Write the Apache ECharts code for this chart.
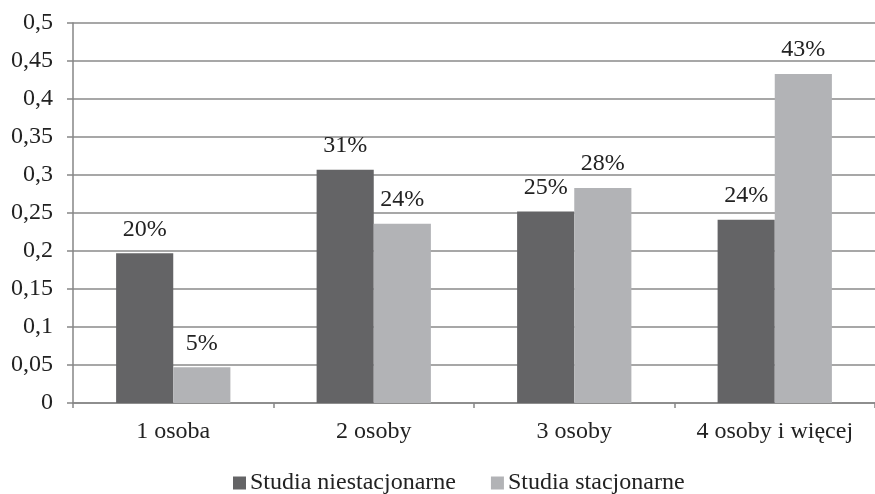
<!DOCTYPE html>
<html>
<head>
<meta charset="utf-8">
<script src="https://cdn.jsdelivr.net/npm/echarts@6/dist/echarts.min.js"></script>
<style>
  html, body { margin: 0; padding: 0; background: #fff; }
  #chart { width: 875px; height: 494px; }
</style>
</head>
<body>
<div id="chart"></div>
<script>
// Household size categories
const categories = ['1 osoba', '2 osoby', '3 osoby', '4 osoby i więcej'];
// Shares per study mode
const niestacjonarne = [0.197, 0.307, 0.252, 0.241];
const stacjonarne = [0.047, 0.236, 0.283, 0.433];
const seriesNames = ['Studia niestacjonarne', 'Studia stacjonarne'];

const FONT = '"Liberation Serif", "DejaVu Serif", serif';
const FS = 24;
const pct = p => Math.round(p.value * 100) + '%';

const chart = echarts.init(document.getElementById('chart'), null, { renderer: 'canvas' });
chart.setOption({
  animation: false,
  backgroundColor: '#ffffff',
  textStyle: { fontFamily: FONT },
  grid: { left: 73, top: 23, width: 813, height: 380 },
  legend: {
    top: 471,
    left: 233,
    padding: 0,
    itemWidth: 13,
    itemHeight: 13,
    itemGap: 35,
    icon: 'rect',
    textStyle: { fontFamily: FONT, fontSize: FS, color: '#222', padding: [2, 0, 0, -1] },
    data: seriesNames
  },
  xAxis: {
    type: 'category',
    data: categories,
    axisLine: { lineStyle: { color: '#868686', width: 1.5 } },
    axisTick: { show: true, length: 5, lineStyle: { color: '#868686', width: 1.5 } },
    axisLabel: { fontFamily: FONT, fontSize: FS, color: '#222', margin: 17, interval: 0 }
  },
  yAxis: {
    type: 'value',
    min: 0,
    max: 0.5,
    interval: 0.05,
    axisLine: { show: true, lineStyle: { color: '#868686', width: 1.5 } },
    axisTick: { show: true, length: 6, lineStyle: { color: '#868686', width: 1.5 } },
    splitLine: { lineStyle: { color: '#8a8a8a', width: 1.5 } },
    axisLabel: {
      fontFamily: FONT, fontSize: FS, color: '#222', margin: 20,
      formatter: v => String(Math.round(v * 100) / 100).replace('.', ',')
    }
  },
  series: [
    {
      name: seriesNames[0],
      type: 'bar',
      data: niestacjonarne,
      barGap: '0%',
      barCategoryGap: '43%',
      itemStyle: { color: '#646466' },
      label: { show: true, position: 'top', distance: 12, formatter: pct,
               fontFamily: FONT, fontSize: FS, color: '#222' }
    },
    {
      name: seriesNames[1],
      type: 'bar',
      data: stacjonarne,
      barGap: '0%',
      barCategoryGap: '43%',
      itemStyle: { color: '#b2b3b6' },
      label: { show: true, position: 'top', distance: 12, formatter: pct,
               fontFamily: FONT, fontSize: FS, color: '#222' }
    }
  ]
});
</script>
</body>
</html>
